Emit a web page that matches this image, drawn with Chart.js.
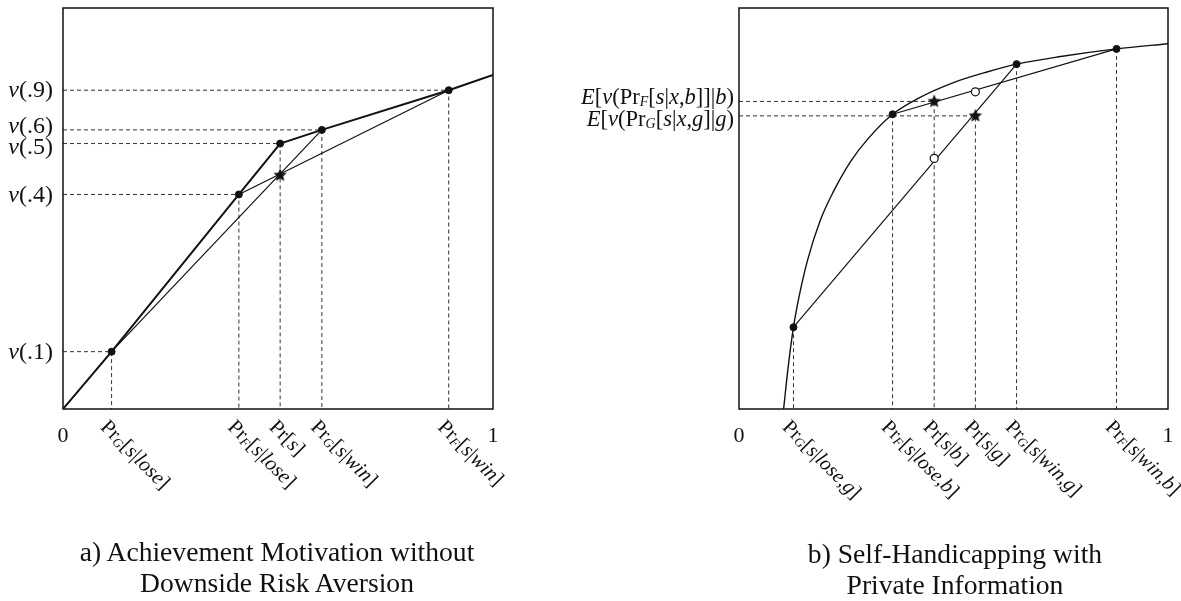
<!DOCTYPE html>
<html>
<head>
<meta charset="utf-8">
<script src="https://cdn.jsdelivr.net/npm/chart.js@4.4.1/dist/chart.umd.min.js"></script>
<style>
  body { margin: 0; background: #fff; width: 1181px; height: 601px; position: relative; overflow: hidden; }
  canvas { position: absolute; top: 0; }
  .caption { position: absolute; width: 440px; text-align: center; font: 27.6px "Liberation Serif", serif; line-height: 31px; color: #111; }
</style>
</head>
<body>
<canvas id="chartA" width="560" height="601" style="left:0;width:560px;height:601px"></canvas>
<canvas id="chartB" width="621" height="601" style="left:560px;width:621px;height:601px"></canvas>
<div class="caption" style="left:57px;top:536px">a) Achievement Motivation without<br>Downside Risk Aversion</div>
<div class="caption" style="left:735px;top:538px">b) Self-Handicapping with<br>Private Information</div>
<script>
// panel a: piecewise linear value function
const valueX = [0, 0.113, 0.409, 0.505, 0.602, 0.897, 1];
const valueY = [0, 0.143, 0.535, 0.662, 0.696, 0.795, 0.833];
// Pr_G[s|lose], Pr_F[s|lose], Pr[s], Pr_G[s|win], Pr_F[s|win]
const probsA = [0.113, 0.409, 0.505, 0.602, 0.897];
const valuesA = [0.143, 0.535, 0.662, 0.696, 0.795];
const starAX = [0.505];
const starAY = [0.583];
const xLabelsA = ["Pr_G[*s*|*lose*]", "Pr_F[*s*|*lose*]", "Pr[*s*]", "Pr_G[*s*|*win*]", "Pr_F[*s*|*win*]"];
const yLabelsA = ["*v*(.1)", "*v*(.4)", "*v*(.5)", "*v*(.6)", "*v*(.9)"];

// panel b: concave value function
const curveX = [0.104, 0.115, 0.127, 0.14, 0.16, 0.19, 0.22, 0.26, 0.30, 0.358, 0.42, 0.50, 0.58, 0.647, 0.75, 0.88, 1.0];
const curveY = [0, 0.108, 0.204, 0.28, 0.372, 0.472, 0.542, 0.617, 0.673, 0.735, 0.776, 0.814, 0.841, 0.860, 0.879, 0.898, 0.911];
// Pr_G[s|lose,g], Pr_F[s|lose,b], Pr_G[s|win,g], Pr_F[s|win,b]
const dotsBX = [0.127, 0.358, 0.647, 0.880];
const dotsBY = [0.204, 0.735, 0.860, 0.898];
// Pr[s|b], Pr[s|g]
const starBX = [0.455, 0.551];
const starBY = [0.767, 0.731];
const circleBX = [0.455, 0.551];
const circleBY = [0.625, 0.791];
const tickBX = [0.127, 0.358, 0.455, 0.551, 0.647, 0.880];
const xLabelsB = ["Pr_G[*s*|*lose*,*g*]", "Pr_F[*s*|*lose*,*b*]", "Pr[*s*|*b*]", "Pr[*s*|*g*]", "Pr_G[*s*|*win*,*g*]", "Pr_F[*s*|*win*,*b*]"];
const yLabelsB = ["*E*[*v*(Pr_F[*s*|*x*,*b*]]|*b*)", "*E*[*v*(Pr_G[*s*|*x*,*g*]|*g*)"];

const INK = "#111";
const FONT = '"Liberation Serif", "Times New Roman", serif';

const pts = (xs, ys) => xs.map((x, i) => ({ x: x, y: ys[i] }));

function makeStar(r) {
  const c = document.createElement("canvas");
  c.width = c.height = 2 * r + 2;
  const g = c.getContext("2d");
  g.translate(r + 1, r + 1);
  g.beginPath();
  for (let i = 0; i < 10; i++) {
    const a = -Math.PI / 2 + i * Math.PI / 5;
    const rr = i % 2 ? r * 0.46 : r;
    g.lineTo(rr * Math.cos(a), rr * Math.sin(a));
  }
  g.closePath();
  g.fillStyle = INK;
  g.fill();
  return c;
}
const star = makeStar(7);

// "*..*" = italic, "_X" = small italic subscript
function parseRich(str) {
  const segs = [];
  let buf = "", italic = false;
  const flush = () => { if (buf) segs.push({ t: buf, it: italic, sub: false }); buf = ""; };
  for (let i = 0; i < str.length; i++) {
    const c = str[i];
    if (c === "*") { flush(); italic = !italic; }
    else if (c === "_") { flush(); segs.push({ t: str[i + 1], it: true, sub: true }); i++; }
    else buf += c;
  }
  flush();
  return segs;
}

function drawRich(ctx, str, x, y, size, align) {
  const segs = parseRich(str);
  const fontOf = s => (s.it ? "italic " : "") + (s.sub ? size * 0.62 : size) + "px " + FONT;
  let w = 0;
  segs.forEach(s => { ctx.font = fontOf(s); s.w = ctx.measureText(s.t).width; w += s.w; });
  let cx = align === "right" ? x - w : x;
  ctx.textBaseline = "alphabetic";
  ctx.textAlign = "left";
  segs.forEach(s => {
    ctx.font = fontOf(s);
    ctx.fillText(s.t, cx, y + (s.sub ? size * 0.08 : 0));
    cx += s.w;
  });
}

function framePlugin(cfg) {
  return {
    id: "frame",
    afterDraw(chart) {
      const { ctx, chartArea: a, scales } = chart;
      const sx = scales.x, sy = scales.y;
      ctx.save();
      ctx.strokeStyle = INK;
      ctx.lineWidth = 1.5;
      ctx.strokeRect(a.left, a.top, a.right - a.left, a.bottom - a.top);
      ctx.fillStyle = INK;

      ctx.font = "22px " + FONT;
      ctx.textAlign = "center";
      ctx.textBaseline = "middle";
      ctx.fillText("0", sx.getPixelForValue(0), a.bottom + 27);
      ctx.fillText("1", sx.getPixelForValue(1), a.bottom + 27);

      cfg.xVals.forEach((v, i) => {
        ctx.save();
        ctx.translate(sx.getPixelForValue(v) - 12, a.bottom + 19);
        ctx.rotate(Math.PI / 4);
        drawRich(ctx, cfg.xText[i], 0, 0, cfg.xSize, "left");
        ctx.restore();
      });

      const ys = cfg.yVals.map((v, i) => ({ p: sy.getPixelForValue(v), t: cfg.yText[i] }))
        .sort((p, q) => p.p - q.p);
      for (let i = 1; i < ys.length; i++) {
        const gap = ys[i].p - ys[i - 1].p;
        if (gap < cfg.minGap) {
          const d = (cfg.minGap - gap) / 2;
          ys[i - 1].p -= d;
          ys[i].p += d;
        }
      }
      ys.forEach(l => drawRich(ctx, l.t, a.left - cfg.yPad, l.p + cfg.ySize * 0.3, cfg.ySize, "right"));
      ctx.restore();
    }
  };
}

function guide(x, y, fromLeft) {
  const data = fromLeft ? [{ x: 0, y: y }, { x: x, y: y }, { x: x, y: 0 }] : [{ x: x, y: y }, { x: x, y: 0 }];
  return { data: data, showLine: true, borderColor: "#333", borderWidth: 1, borderDash: [4, 3], pointRadius: 0 };
}

const line = (data, w, extra) => Object.assign({ data: data, showLine: true, borderColor: INK, borderWidth: w, pointRadius: 0, fill: false }, extra || {});

const baseOptions = pad => ({
  responsive: false,
  animation: false,
  layout: { padding: pad },
  plugins: { legend: { display: false }, tooltip: { enabled: false } },
  scales: {
    x: { type: "linear", min: 0, max: 1, display: false },
    y: { type: "linear", min: 0, max: 1, display: false }
  }
});

// ---- panel a ----
const dsA = [
  { data: pts(starAX, starAY), pointStyle: star, pointRadius: 7 },
  { data: pts(probsA, valuesA), pointRadius: 3.5, backgroundColor: INK, borderColor: INK },
  line(pts(valueX, valueY), 2),
  line([{ x: probsA[0], y: valuesA[0] }, { x: probsA[3], y: valuesA[3] }], 1.2),
  line([{ x: probsA[1], y: valuesA[1] }, { x: probsA[4], y: valuesA[4] }], 1.2)
].concat(probsA.map((x, i) => guide(x, valuesA[i], true)));

new Chart(document.getElementById("chartA"), {
  type: "scatter",
  data: { datasets: dsA },
  options: baseOptions({ left: 63, right: 67, top: 3, bottom: 192 }),
  plugins: [framePlugin({ xVals: probsA, xText: xLabelsA, xSize: 21, yVals: valuesA, yText: yLabelsA, ySize: 24, yPad: 10, minGap: 21 })]
});

// ---- panel b ----
const dsB = [
  { data: pts(starBX, starBY), pointStyle: star, pointRadius: 7 },
  { data: pts(circleBX, circleBY), pointRadius: 4, backgroundColor: "#fff", borderColor: INK, borderWidth: 1.2 },
  { data: pts(dotsBX, dotsBY), pointRadius: 3.5, backgroundColor: INK, borderColor: INK },
  line(pts(curveX, curveY), 1.4, { cubicInterpolationMode: "monotone" }),
  line([{ x: dotsBX[0], y: dotsBY[0] }, { x: dotsBX[2], y: dotsBY[2] }], 1.2),
  line([{ x: dotsBX[1], y: dotsBY[1] }, { x: dotsBX[3], y: dotsBY[3] }], 1.2)
].concat(starBX.map((x, i) => guide(x, starBY[i], true)))
 .concat(dotsBX.map((x, i) => guide(x, dotsBY[i], false)));

new Chart(document.getElementById("chartB"), {
  type: "scatter",
  data: { datasets: dsB },
  options: baseOptions({ left: 179, right: 13, top: 3, bottom: 192 }),
  plugins: [framePlugin({ xVals: tickBX, xText: xLabelsB, xSize: 20.5, yVals: starBY, yText: yLabelsB, ySize: 22.5, yPad: 5, minGap: 22 })]
});
</script>
</body>
</html>
